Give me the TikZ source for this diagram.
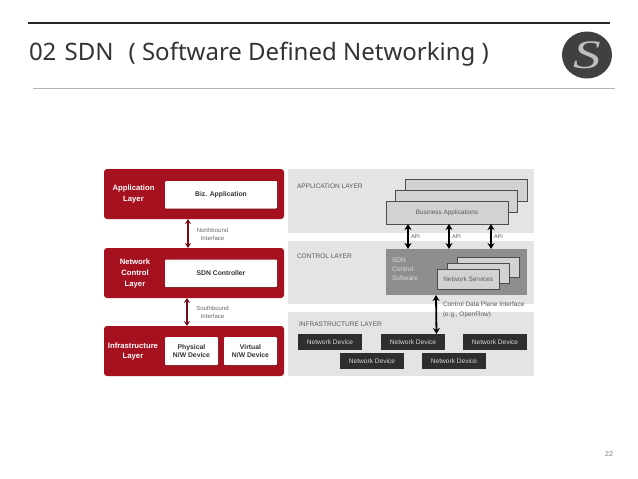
\documentclass[tikz,border=0pt]{standalone}
\usepackage{fontspec}
\setmainfont{Liberation Sans}
\newfontfamily\titlefont{Noto Sans}
\newfontfamily\logofont{Liberation Serif}
\usetikzlibrary{arrows.meta,shadows,shapes.geometric}
\definecolor{cred}{HTML}{A5111F}
\definecolor{cband}{HTML}{E4E4E4}
\definecolor{cfill}{HTML}{D2D2D2}
\definecolor{cdark}{HTML}{8E8E8E}
\definecolor{cdev}{HTML}{2E2E2E}
\definecolor{ctitle}{HTML}{333333}
\definecolor{clabel}{HTML}{5A5A5A}
\tikzset{
  x=1pt,y=-1pt,
  every node/.style={inner sep=0pt,outer sep=0pt,align=center},
  place/.style={anchor=north west},
  redbox/.style={place,fill=cred,rounded corners=3pt,minimum width=180pt,minimum height=50pt},
  whitebox/.style={place,fill=white,rounded corners=1pt,minimum height=27.5pt,text=black!80,font=\fontsize{6.8}{8.6}\selectfont\bfseries,drop shadow={shadow xshift=0.7pt,shadow yshift=-0.7pt,opacity=.45,fill=black}},
  redlabel/.style={text=white,font=\fontsize{7.7}{10.8}\selectfont\bfseries},
  iface/.style={text=black!60,font=\fontsize{6}{7.8}\selectfont},
  band/.style={place,fill=cband,minimum width=246pt},
  appbox/.style={place,fill=cfill,draw=black!70,line width=.7pt,minimum width=122pt,minimum height=22.5pt},
  svcbox/.style={place,fill=cfill,draw=black!70,line width=.7pt,minimum width=62.5pt,minimum height=20pt},
  devbox/.style={place,fill=cdev,text=white!85!black,minimum width=64pt,minimum height=15.5pt,font=\fontsize{6.6}{8}\selectfont},
  layerlabel/.style={anchor=west,text=clabel,font=\fontsize{6.55}{8}\selectfont},
  boxlabel/.style={text=clabel,font=\fontsize{6.4}{8}\selectfont},
  apilabel/.style={anchor=west,text=clabel,font=\fontsize{5.5}{7}\selectfont},
  redarrow/.style={{Stealth[length=5pt,width=6pt]}-{Stealth[length=5pt,width=6pt]},draw=cred!70!black,line width=1.2pt},
  blackarrow/.style={{Stealth[length=6pt,width=7pt]}-{Stealth[length=6pt,width=7pt]},draw=black,line width=1.8pt},
}
\begin{document}
\begin{tikzpicture}
\useasboundingbox[fill=white] (0,0) rectangle (638,479);
% header
\coordinate (tl) at (28,23); \coordinate (tr) at (610,23);
\coordinate (bl) at (33,88); \coordinate (br) at (615,88);
\draw[line width=2pt,draw=black!85] (tl) -- (tr);
\draw[line width=.7pt,draw=black!30] (bl) -- (br);
\node[anchor=base west,text=ctitle,font=\fontsize{24}{26}\selectfont\titlefont] (title) at (29,60) {02\hspace{2pt} SDN\hspace{15pt}( Software Defined Networking )};
\node[ellipse,fill=black!75,minimum width=50pt,minimum height=47pt] (logo) at (587,55) {};
\node[text=black!25,font=\fontsize{46}{46}\selectfont\logofont\itshape] (logoS) at (587,55) {\scalebox{1.2}[0.88]{S}};
\node[text=black!50,font=\fontsize{7}{8}\selectfont] (pagenum) at (609,454) {22};
% left: red layers
\node[redbox] (appred) at (104,169) {};
\node[redbox] (netred) at (104,248) {};
\node[redbox] (infred) at (104,326) {};
\node[redlabel] (applab) at (133.5,194) {Application\\Layer};
\node[redlabel] (netlab) at (135,273.5) {Network\\Control\\Layer};
\node[redlabel] (inflab) at (133,351.5) {Infrastructure\\Layer};
\node[whitebox,minimum width=112pt] (biz) at (165,181) {Biz. Application};
\node[whitebox,minimum width=112pt] (ctrl) at (165,259.5) {SDN Controller};
\node[whitebox,minimum width=53pt,minimum height=28pt] (phys) at (165,337) {Physical\\N/W Device};
\node[whitebox,minimum width=53pt,minimum height=28pt] (virt) at (224,337) {Virtual\\N/W Device};
\draw[redarrow] ([xshift=-6pt]appred.south) -- ([xshift=-6pt]netred.north);
\draw[redarrow] ([xshift=-7pt]netred.south) -- ([xshift=-7pt]infred.north);
\node[iface] (north) at (212.5,234.5) {Northbound\\Interface};
\node[iface] (south) at (212.5,312.5) {Southbound\\Interface};
% right: bands
\node[band,minimum height=64pt] (bandA) at (288,169) {};
\node[band,minimum height=63pt] (bandC) at (288,241) {};
\node[band,minimum height=64pt] (bandI) at (288,312) {};
\node[layerlabel] (labA) at (297,186.5) {APPLICATION LAYER};
\node[layerlabel] (labC) at (297,256.5) {CONTROL LAYER};
\node[layerlabel] (labI) at (299,324.5) {INFRASTRUCTURE LAYER};
% application boxes
\node[appbox] (ba3) at (405,179) {};
\node[appbox] (ba2) at (395,190) {};
\node[appbox,boxlabel] (ba1) at (386,201.5) {Business Applications};
% control
\node[place,fill=cdark,minimum width=141pt,minimum height=46pt] (sdn) at (386,249) {};
\node[anchor=north west,align=left,text=white!85!black,font=\fontsize{6.6}{9.2}\selectfont] (sdnlab) at (392,257.5) {SDN\\Control\\Software};
\node[svcbox] (ns3) at (457,257) {};
\node[svcbox] (ns2) at (447,263) {};
\node[svcbox,boxlabel] (ns1) at (437,269) {Network Services};
% API arrows
\draw[blackarrow] ([xshift=-39pt]ba1.south) -- ([xshift=-48.5pt]sdn.north);
\draw[blackarrow] ([xshift=2pt]ba1.south) -- ([xshift=-7.5pt]sdn.north);
\draw[blackarrow] ([xshift=44pt]ba1.south) -- ([xshift=34.5pt]sdn.north);
\node[apilabel] (api1) at (411,237) {API};
\node[apilabel] (api2) at (452,237) {API};
\node[apilabel] (api3) at (494,237) {API};
% devices
\node[devbox] (d1) at (298,334) {Network Device};
\node[devbox] (d2) at (381,334) {Network Device};
\node[devbox] (d3) at (463,334) {Network Device};
\node[devbox] (d4) at (340,353) {Network Device};
\node[devbox] (d5) at (422,353) {Network Device};
\draw[blackarrow] ([xshift=-20.5pt]sdn.south) -- ([xshift=23.5pt]d2.north);
\node[anchor=north west,align=left,text=clabel,font=\fontsize{6.45}{9.8}\selectfont] (cdp) at (443,302) {Control Data Plane Interface\\(e.g., OpenFlow)};
\end{tikzpicture}
\end{document}
